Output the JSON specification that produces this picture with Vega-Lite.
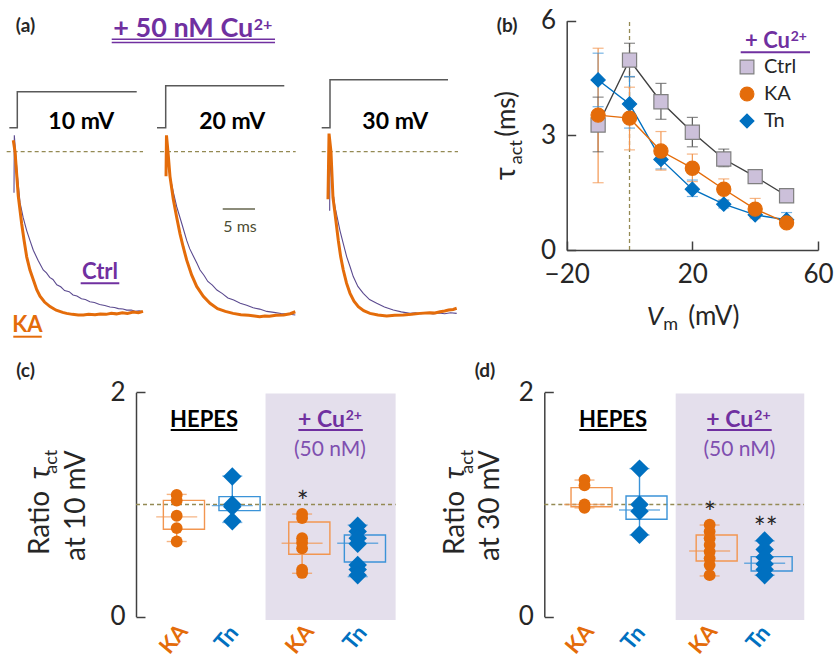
{
  "$schema": "https://vega.github.io/schema/vega-lite/v6.json",
  "width": 834,
  "height": 660,
  "padding": 0,
  "autosize": {"type": "none"},
  "background": "#ffffff",
  "config": {"font": "Lato", "view": {"stroke": null}},
  "datasets": {
    "traces": [
      {"p":"10 mV","c":"Ctrl","t":-0.51,"i":0.75},{"p":"10 mV","c":"Ctrl","t":-0.46,"i":1.10},{"p":"10 mV","c":"Ctrl","t":-0.28,"i":1.0},{"p":"10 mV","c":"Ctrl","t":0.0,"i":0.86},{"p":"10 mV","c":"Ctrl","t":0.42,"i":0.69},{"p":"10 mV","c":"Ctrl","t":0.9,"i":0.6},{"p":"10 mV","c":"Ctrl","t":1.45,"i":0.52},{"p":"10 mV","c":"Ctrl","t":1.95,"i":0.46},{"p":"10 mV","c":"Ctrl","t":2.47,"i":0.4},{"p":"10 mV","c":"Ctrl","t":3.2,"i":0.34},{"p":"10 mV","c":"Ctrl","t":4.0,"i":0.28},{"p":"10 mV","c":"Ctrl","t":4.5,"i":0.262},{"p":"10 mV","c":"Ctrl","t":5.0,"i":0.235},{"p":"10 mV","c":"Ctrl","t":5.5,"i":0.222},{"p":"10 mV","c":"Ctrl","t":6.1,"i":0.19},{"p":"10 mV","c":"Ctrl","t":6.7,"i":0.178},{"p":"10 mV","c":"Ctrl","t":7.3,"i":0.155},{"p":"10 mV","c":"Ctrl","t":8.0,"i":0.148},{"p":"10 mV","c":"Ctrl","t":8.6,"i":0.128},{"p":"10 mV","c":"Ctrl","t":9.2,"i":0.122},{"p":"10 mV","c":"Ctrl","t":9.9,"i":0.105},{"p":"10 mV","c":"Ctrl","t":10.5,"i":0.1},{"p":"10 mV","c":"Ctrl","t":11.2,"i":0.087},{"p":"10 mV","c":"Ctrl","t":11.9,"i":0.082},{"p":"10 mV","c":"Ctrl","t":12.7,"i":0.07},{"p":"10 mV","c":"Ctrl","t":13.5,"i":0.064},{"p":"10 mV","c":"Ctrl","t":14.3,"i":0.055},{"p":"10 mV","c":"Ctrl","t":15.0,"i":0.052},{"p":"10 mV","c":"Ctrl","t":15.6,"i":0.045},{"p":"10 mV","c":"Ctrl","t":16.3,"i":0.043},{"p":"10 mV","c":"Ctrl","t":16.9,"i":0.036},{"p":"10 mV","c":"Ctrl","t":17.6,"i":0.036},{"p":"10 mV","c":"Ctrl","t":18.2,"i":0.029},{"p":"10 mV","c":"Ctrl","t":18.8,"i":0.031},{"p":"10 mV","c":"Ctrl","t":19.4,"i":0.026},
      {"p":"10 mV","c":"KA","t":-0.62,"i":1.07},{"p":"10 mV","c":"KA","t":-0.35,"i":1.0},{"p":"10 mV","c":"KA","t":0.15,"i":0.73},{"p":"10 mV","c":"KA","t":0.68,"i":0.56},{"p":"10 mV","c":"KA","t":1.05,"i":0.46},{"p":"10 mV","c":"KA","t":1.45,"i":0.36},{"p":"10 mV","c":"KA","t":1.95,"i":0.28},{"p":"10 mV","c":"KA","t":2.47,"i":0.22},{"p":"10 mV","c":"KA","t":3.0,"i":0.16},{"p":"10 mV","c":"KA","t":3.5,"i":0.12},{"p":"10 mV","c":"KA","t":4.2,"i":0.085},{"p":"10 mV","c":"KA","t":5.05,"i":0.057},{"p":"10 mV","c":"KA","t":6.0,"i":0.035},{"p":"10 mV","c":"KA","t":7.0,"i":0.022},{"p":"10 mV","c":"KA","t":7.6,"i":0.016},{"p":"10 mV","c":"KA","t":8.5,"i":0.01},{"p":"10 mV","c":"KA","t":9.4,"i":0.006},{"p":"10 mV","c":"KA","t":10.2,"i":0.006},{"p":"10 mV","c":"KA","t":11.0,"i":0.01},{"p":"10 mV","c":"KA","t":12.0,"i":0.007},{"p":"10 mV","c":"KA","t":12.8,"i":0.012},{"p":"10 mV","c":"KA","t":13.7,"i":0.01},{"p":"10 mV","c":"KA","t":14.5,"i":0.016},{"p":"10 mV","c":"KA","t":15.3,"i":0.013},{"p":"10 mV","c":"KA","t":16.2,"i":0.02},{"p":"10 mV","c":"KA","t":17.0,"i":0.016},{"p":"10 mV","c":"KA","t":17.9,"i":0.024},{"p":"10 mV","c":"KA","t":18.7,"i":0.02},{"p":"10 mV","c":"KA","t":19.4,"i":0.028},
      {"p":"20 mV","c":"Ctrl","t":0.05,"i":1.0},{"p":"20 mV","c":"Ctrl","t":0.66,"i":0.85},{"p":"20 mV","c":"Ctrl","t":1.2,"i":0.75},{"p":"20 mV","c":"Ctrl","t":1.7,"i":0.665},{"p":"20 mV","c":"Ctrl","t":2.5,"i":0.56},{"p":"20 mV","c":"Ctrl","t":3.24,"i":0.46},{"p":"20 mV","c":"Ctrl","t":3.7,"i":0.41},{"p":"20 mV","c":"Ctrl","t":4.2,"i":0.37},{"p":"20 mV","c":"Ctrl","t":4.8,"i":0.322},{"p":"20 mV","c":"Ctrl","t":5.3,"i":0.28},{"p":"20 mV","c":"Ctrl","t":5.9,"i":0.248},{"p":"20 mV","c":"Ctrl","t":6.5,"i":0.21},{"p":"20 mV","c":"Ctrl","t":7.2,"i":0.188},{"p":"20 mV","c":"Ctrl","t":7.9,"i":0.158},{"p":"20 mV","c":"Ctrl","t":8.7,"i":0.138},{"p":"20 mV","c":"Ctrl","t":9.6,"i":0.11},{"p":"20 mV","c":"Ctrl","t":10.5,"i":0.097},{"p":"20 mV","c":"Ctrl","t":11.5,"i":0.077},{"p":"20 mV","c":"Ctrl","t":12.5,"i":0.066},{"p":"20 mV","c":"Ctrl","t":13.5,"i":0.05},{"p":"20 mV","c":"Ctrl","t":14.5,"i":0.042},{"p":"20 mV","c":"Ctrl","t":15.6,"i":0.028},{"p":"20 mV","c":"Ctrl","t":16.7,"i":0.022},{"p":"20 mV","c":"Ctrl","t":17.8,"i":0.015},{"p":"20 mV","c":"Ctrl","t":18.9,"i":0.012},{"p":"20 mV","c":"Ctrl","t":20.0,"i":0.006},
      {"p":"20 mV","c":"KA","t":0.05,"i":0.85},{"p":"20 mV","c":"KA","t":0.12,"i":1.1},{"p":"20 mV","c":"KA","t":0.35,"i":1.0},{"p":"20 mV","c":"KA","t":0.66,"i":0.85},{"p":"20 mV","c":"KA","t":1.17,"i":0.71},{"p":"20 mV","c":"KA","t":1.7,"i":0.6},{"p":"20 mV","c":"KA","t":2.21,"i":0.5},{"p":"20 mV","c":"KA","t":2.7,"i":0.42},{"p":"20 mV","c":"KA","t":3.24,"i":0.34},{"p":"20 mV","c":"KA","t":4.0,"i":0.25},{"p":"20 mV","c":"KA","t":4.78,"i":0.18},{"p":"20 mV","c":"KA","t":5.8,"i":0.12},{"p":"20 mV","c":"KA","t":6.84,"i":0.077},{"p":"20 mV","c":"KA","t":8.0,"i":0.045},{"p":"20 mV","c":"KA","t":9.2,"i":0.028},{"p":"20 mV","c":"KA","t":10.4,"i":0.016},{"p":"20 mV","c":"KA","t":11.6,"i":0.008},{"p":"20 mV","c":"KA","t":12.8,"i":0.004},{"p":"20 mV","c":"KA","t":13.7,"i":0.0},{"p":"20 mV","c":"KA","t":14.5,"i":-0.004},{"p":"20 mV","c":"KA","t":15.3,"i":0.0},{"p":"20 mV","c":"KA","t":16.0,"i":-0.002},{"p":"20 mV","c":"KA","t":17.0,"i":0.004},{"p":"20 mV","c":"KA","t":18.2,"i":0.006},{"p":"20 mV","c":"KA","t":19.2,"i":0.014},{"p":"20 mV","c":"KA","t":20.0,"i":0.026},
      {"p":"30 mV","c":"Ctrl","t":-0.05,"i":0.64},{"p":"30 mV","c":"Ctrl","t":0.0,"i":1.0},{"p":"30 mV","c":"Ctrl","t":0.3,"i":0.8},{"p":"30 mV","c":"Ctrl","t":0.77,"i":0.665},{"p":"30 mV","c":"Ctrl","t":1.54,"i":0.52},{"p":"30 mV","c":"Ctrl","t":2.05,"i":0.44},{"p":"30 mV","c":"Ctrl","t":2.58,"i":0.36},{"p":"30 mV","c":"Ctrl","t":3.1,"i":0.3},{"p":"30 mV","c":"Ctrl","t":3.59,"i":0.24},{"p":"30 mV","c":"Ctrl","t":4.3,"i":0.18},{"p":"30 mV","c":"Ctrl","t":5.14,"i":0.138},{"p":"30 mV","c":"Ctrl","t":6.1,"i":0.1},{"p":"30 mV","c":"Ctrl","t":7.21,"i":0.077},{"p":"30 mV","c":"Ctrl","t":8.4,"i":0.055},{"p":"30 mV","c":"Ctrl","t":9.77,"i":0.037},{"p":"30 mV","c":"Ctrl","t":11.0,"i":0.025},{"p":"30 mV","c":"Ctrl","t":12.35,"i":0.016},{"p":"30 mV","c":"Ctrl","t":13.2,"i":0.02},{"p":"30 mV","c":"Ctrl","t":14.0,"i":0.014},{"p":"30 mV","c":"Ctrl","t":15.0,"i":0.018},{"p":"30 mV","c":"Ctrl","t":15.9,"i":0.012},{"p":"30 mV","c":"Ctrl","t":16.8,"i":0.018},{"p":"30 mV","c":"Ctrl","t":17.7,"i":0.014},{"p":"30 mV","c":"Ctrl","t":18.6,"i":0.02},{"p":"30 mV","c":"Ctrl","t":19.55,"i":0.016},
      {"p":"30 mV","c":"KA","t":-0.31,"i":0.71},{"p":"30 mV","c":"KA","t":-0.15,"i":1.11},{"p":"30 mV","c":"KA","t":0.15,"i":1.0},{"p":"30 mV","c":"KA","t":0.46,"i":0.72},{"p":"30 mV","c":"KA","t":0.77,"i":0.625},{"p":"30 mV","c":"KA","t":1.28,"i":0.46},{"p":"30 mV","c":"KA","t":1.65,"i":0.36},{"p":"30 mV","c":"KA","t":2.05,"i":0.28},{"p":"30 mV","c":"KA","t":2.55,"i":0.2},{"p":"30 mV","c":"KA","t":3.09,"i":0.138},{"p":"30 mV","c":"KA","t":3.7,"i":0.09},{"p":"30 mV","c":"KA","t":4.37,"i":0.057},{"p":"30 mV","c":"KA","t":5.2,"i":0.032},{"p":"30 mV","c":"KA","t":6.17,"i":0.016},{"p":"30 mV","c":"KA","t":7.4,"i":0.006},{"p":"30 mV","c":"KA","t":8.75,"i":0.0},{"p":"30 mV","c":"KA","t":10.0,"i":0.004},{"p":"30 mV","c":"KA","t":11.3,"i":0.006},{"p":"30 mV","c":"KA","t":12.6,"i":0.01},{"p":"30 mV","c":"KA","t":13.9,"i":0.016},{"p":"30 mV","c":"KA","t":15.4,"i":0.02},{"p":"30 mV","c":"KA","t":16.2,"i":0.018},{"p":"30 mV","c":"KA","t":17.0,"i":0.026},{"p":"30 mV","c":"KA","t":17.7,"i":0.03},{"p":"30 mV","c":"KA","t":18.3,"i":0.036},{"p":"30 mV","c":"KA","t":19.0,"i":0.04},{"p":"30 mV","c":"KA","t":19.55,"i":0.047}
    ],
    "steps": [
      {"p":"10 mV","k":0,"t":-1.23,"v":-50},{"p":"10 mV","k":1,"t":0,"v":-50},{"p":"10 mV","k":2,"t":0,"v":10},{"p":"10 mV","k":3,"t":18.43,"v":10},
      {"p":"20 mV","k":0,"t":-1.34,"v":-50},{"p":"20 mV","k":1,"t":0,"v":-50},{"p":"20 mV","k":2,"t":0,"v":20},{"p":"20 mV","k":3,"t":18.3,"v":20},
      {"p":"30 mV","k":0,"t":-1.28,"v":-50},{"p":"30 mV","k":1,"t":0,"v":-50},{"p":"30 mV","k":2,"t":0,"v":30},{"p":"30 mV","k":3,"t":18.21,"v":30}
    ],
    "tau": [
      {"cond":"Ctrl","vm":-10,"tau":3.27,"lo":2.57,"hi":4.0},{"cond":"Ctrl","vm":0,"tau":4.97,"lo":4.53,"hi":5.41},{"cond":"Ctrl","vm":10,"tau":3.88,"lo":3.42,"hi":4.36},{"cond":"Ctrl","vm":20,"tau":3.08,"lo":2.7,"hi":3.47},{"cond":"Ctrl","vm":30,"tau":2.38,"lo":2.18,"hi":2.64},{"cond":"Ctrl","vm":40,"tau":1.92,"lo":1.84,"hi":2.0},{"cond":"Ctrl","vm":50,"tau":1.42,"lo":1.36,"hi":1.48},
      {"cond":"Tn","vm":-10,"tau":4.45,"lo":3.75,"hi":5.15},{"cond":"Tn","vm":0,"tau":3.82,"lo":3.19,"hi":4.54},{"cond":"Tn","vm":10,"tau":2.37,"lo":2.12,"hi":2.6},{"cond":"Tn","vm":20,"tau":1.59,"lo":1.4,"hi":1.83},{"cond":"Tn","vm":30,"tau":1.2,"lo":1.1,"hi":1.3},{"cond":"Tn","vm":40,"tau":0.92,"lo":0.86,"hi":0.98},{"cond":"Tn","vm":50,"tau":0.79,"lo":0.65,"hi":0.98},
      {"cond":"KA","vm":-10,"tau":3.53,"lo":1.76,"hi":5.28},{"cond":"KA","vm":0,"tau":3.45,"lo":2.62,"hi":4.26},{"cond":"KA","vm":10,"tau":2.59,"lo":2.09,"hi":3.1},{"cond":"KA","vm":20,"tau":2.14,"lo":1.79,"hi":2.51},{"cond":"KA","vm":30,"tau":1.59,"lo":1.31,"hi":1.86},{"cond":"KA","vm":40,"tau":1.07,"lo":0.82,"hi":1.35},{"cond":"KA","vm":50,"tau":0.71,"lo":0.6,"hi":0.82}
    ],
    "ratios": [
      {"panel":"c","grp":"HEPES","cond":"KA","v":1.085},{"panel":"c","grp":"HEPES","cond":"KA","v":1.035},{"panel":"c","grp":"HEPES","cond":"KA","v":0.9},{"panel":"c","grp":"HEPES","cond":"KA","v":0.79},{"panel":"c","grp":"HEPES","cond":"KA","v":0.67},
      {"panel":"c","grp":"HEPES","cond":"Tn","v":1.25},{"panel":"c","grp":"HEPES","cond":"Tn","v":1.0},{"panel":"c","grp":"HEPES","cond":"Tn","v":0.98},{"panel":"c","grp":"HEPES","cond":"Tn","v":0.85},
      {"panel":"c","grp":"Cu","cond":"KA","v":0.915},{"panel":"c","grp":"Cu","cond":"KA","v":0.88},{"panel":"c","grp":"Cu","cond":"KA","v":0.7},{"panel":"c","grp":"Cu","cond":"KA","v":0.66},{"panel":"c","grp":"Cu","cond":"KA","v":0.61},{"panel":"c","grp":"Cu","cond":"KA","v":0.42},{"panel":"c","grp":"Cu","cond":"KA","v":0.39},
      {"panel":"c","grp":"Cu","cond":"Tn","v":0.81},{"panel":"c","grp":"Cu","cond":"Tn","v":0.76},{"panel":"c","grp":"Cu","cond":"Tn","v":0.7},{"panel":"c","grp":"Cu","cond":"Tn","v":0.65},{"panel":"c","grp":"Cu","cond":"Tn","v":0.46},{"panel":"c","grp":"Cu","cond":"Tn","v":0.42},{"panel":"c","grp":"Cu","cond":"Tn","v":0.37},
      {"panel":"d","grp":"HEPES","cond":"KA","v":1.22},{"panel":"d","grp":"HEPES","cond":"KA","v":1.17},{"panel":"d","grp":"HEPES","cond":"KA","v":1.0},{"panel":"d","grp":"HEPES","cond":"KA","v":0.97},
      {"panel":"d","grp":"HEPES","cond":"Tn","v":1.32},{"panel":"d","grp":"HEPES","cond":"Tn","v":1.0},{"panel":"d","grp":"HEPES","cond":"Tn","v":0.94},{"panel":"d","grp":"HEPES","cond":"Tn","v":0.73},
      {"panel":"d","grp":"Cu","cond":"KA","v":0.82},{"panel":"d","grp":"Cu","cond":"KA","v":0.76},{"panel":"d","grp":"Cu","cond":"KA","v":0.7},{"panel":"d","grp":"Cu","cond":"KA","v":0.64},{"panel":"d","grp":"Cu","cond":"KA","v":0.58},{"panel":"d","grp":"Cu","cond":"KA","v":0.52},{"panel":"d","grp":"Cu","cond":"KA","v":0.46},{"panel":"d","grp":"Cu","cond":"KA","v":0.37},
      {"panel":"d","grp":"Cu","cond":"Tn","v":0.68},{"panel":"d","grp":"Cu","cond":"Tn","v":0.6},{"panel":"d","grp":"Cu","cond":"Tn","v":0.53},{"panel":"d","grp":"Cu","cond":"Tn","v":0.47},{"panel":"d","grp":"Cu","cond":"Tn","v":0.42},{"panel":"d","grp":"Cu","cond":"Tn","v":0.37}
    ],
    "boxes": [
      {"panel":"c","grp":"HEPES","cond":"KA","lo":0.67,"q1":0.78,"med":0.89,"q3":1.037,"hi":1.09},
      {"panel":"c","grp":"HEPES","cond":"Tn","lo":0.84,"q1":0.945,"med":0.99,"q3":1.07,"hi":1.254},
      {"panel":"c","grp":"Cu","cond":"KA","lo":0.387,"q1":0.556,"med":0.654,"q3":0.844,"hi":0.915},
      {"panel":"c","grp":"Cu","cond":"Tn","lo":0.357,"q1":0.487,"med":0.654,"q3":0.728,"hi":0.817},
      {"panel":"d","grp":"HEPES","cond":"KA","lo":0.97,"q1":0.98,"med":1.0,"q3":1.15,"hi":1.218},
      {"panel":"d","grp":"HEPES","cond":"Tn","lo":0.728,"q1":0.868,"med":0.951,"q3":1.076,"hi":1.32},
      {"panel":"d","grp":"Cu","cond":"KA","lo":0.363,"q1":0.496,"med":0.586,"q3":0.728,"hi":0.817},
      {"panel":"d","grp":"Cu","cond":"Tn","lo":0.37,"q1":0.407,"med":0.476,"q3":0.535,"hi":0.675}
    ]
  },
  "resolve": {"scale": {"x": "independent", "y": "independent", "xOffset": "independent"}, "axis": {"x": "independent", "y": "independent"}},
  "layer": [
    {
      "data": {"values": [{}]},
      "layer": [
        {"mark": {"type": "rule", "color": "#948a54", "strokeDash": [4, 3], "strokeWidth": 1.3},
         "encoding": {"x": {"datum": -1.64, "scale": {"domain": [0, 20], "range": [17.3, 146.9], "nice": false, "zero": false}, "axis": null}, "x2": {"datum": 19.4}, "y": {"datum": 1, "scale": {"domain": [0, 1], "range": [316, 151.7], "nice": false, "zero": false}, "axis": null}}},
        {"data": {"name": "traces"}, "transform": [{"filter": "datum.p === '10 mV' && datum.c === 'Ctrl'"}], "mark": {"type": "line", "color": "#5b4a8f", "strokeWidth": 1.1},
         "encoding": {"x": {"field": "t", "type": "quantitative", "axis": null}, "y": {"field": "i", "type": "quantitative", "axis": null}}},
        {"data": {"name": "traces"}, "transform": [{"filter": "datum.p === '10 mV' && datum.c === 'KA'"}], "mark": {"type": "line", "color": "#e46c0a", "strokeWidth": 3},
         "encoding": {"x": {"field": "t", "type": "quantitative", "axis": null}, "y": {"field": "i", "type": "quantitative", "axis": null}}},
        {"mark": {"type": "text", "text": "(a)", "fontSize": 19, "fontWeight": "bold", "color": "#262626"}, "encoding": {"x": {"datum": 1.27, "axis": null}, "y": {"datum": 1.766, "axis": null}}},
        {"mark": {"type": "text", "text": "10 mV", "fontSize": 23, "fontWeight": "bold", "color": "#000000", "baseline": "alphabetic"}, "encoding": {"x": {"datum": 9.88, "axis": null}, "y": {"datum": 1.136, "axis": null}}},
        {"mark": {"type": "text", "text": "Ctrl", "fontSize": 22, "fontWeight": "bold", "color": "#7030a0", "baseline": "alphabetic"}, "encoding": {"x": {"datum": 12.76, "axis": null}, "y": {"datum": 0.223, "axis": null}}},
        {"mark": {"type": "rule", "color": "#7030a0", "strokeWidth": 2}, "encoding": {"x": {"datum": 9.78, "axis": null}, "x2": {"datum": 15.74}, "y": {"datum": 0.199, "axis": null}}},
        {"mark": {"type": "text", "text": "KA", "fontSize": 22, "fontWeight": "bold", "color": "#e46c0a", "baseline": "alphabetic"}, "encoding": {"x": {"datum": 1.57, "axis": null}, "y": {"datum": -0.099, "axis": null}}},
        {"mark": {"type": "rule", "color": "#e46c0a", "strokeWidth": 2}, "encoding": {"x": {"datum": -0.62, "axis": null}, "x2": {"datum": 3.77}, "y": {"datum": -0.126, "axis": null}}}
      ]
    },
    {
      "data": {"name": "steps"}, "transform": [{"filter": "datum.p === '10 mV'"}],
      "mark": {"type": "line", "color": "#595959", "strokeWidth": 1.5},
      "encoding": {"x": {"field": "t", "type": "quantitative", "scale": {"domain": [0, 20], "range": [17.3, 146.9], "nice": false, "zero": false}, "axis": null}, "y": {"field": "v", "type": "quantitative", "scale": {"domain": [-50, 30], "range": [127.7, 79.7], "nice": false, "zero": false}, "axis": null}, "order": {"field": "k"}}
    },
    {
      "data": {"values": [{}]},
      "layer": [
        {"mark": {"type": "rule", "color": "#948a54", "strokeDash": [4, 3], "strokeWidth": 1.3},
         "encoding": {"x": {"datum": -0.88, "scale": {"domain": [0, 20], "range": [165.7, 295.3], "nice": false, "zero": false}, "axis": null}, "x2": {"datum": 20.06}, "y": {"datum": 1, "scale": {"domain": [0, 1], "range": [316, 151.7], "nice": false, "zero": false}, "axis": null}}},
        {"data": {"name": "traces"}, "transform": [{"filter": "datum.p === '20 mV' && datum.c === 'Ctrl'"}], "mark": {"type": "line", "color": "#5b4a8f", "strokeWidth": 1.1},
         "encoding": {"x": {"field": "t", "type": "quantitative", "axis": null}, "y": {"field": "i", "type": "quantitative", "axis": null}}},
        {"data": {"name": "traces"}, "transform": [{"filter": "datum.p === '20 mV' && datum.c === 'KA'"}], "mark": {"type": "line", "color": "#e46c0a", "strokeWidth": 3},
         "encoding": {"x": {"field": "t", "type": "quantitative", "axis": null}, "y": {"field": "i", "type": "quantitative", "axis": null}}},
        {"mark": {"type": "text", "text": "+ 50 nM Cu", "fontSize": 27, "fontWeight": "bold", "color": "#7030a0", "align": "right", "baseline": "alphabetic"}, "encoding": {"x": {"datum": 13.52, "axis": null}, "y": {"datum": 1.7, "axis": null}}},
        {"mark": {"type": "text", "text": "2+", "fontSize": 16, "fontWeight": "bold", "color": "#7030a0", "align": "left", "baseline": "alphabetic"}, "encoding": {"x": {"datum": 13.6, "axis": null}, "y": {"datum": 1.741, "axis": null}}},
        {"mark": {"type": "rule", "color": "#7030a0", "strokeWidth": 1.5}, "encoding": {"x": {"datum": -8.33, "axis": null}, "x2": {"datum": 16.87}, "y": {"datum": 1.684, "axis": null}}},
        {"mark": {"type": "rule", "color": "#7030a0", "strokeWidth": 1.5}, "encoding": {"x": {"datum": -8.33, "axis": null}, "x2": {"datum": 16.87}, "y": {"datum": 1.664, "axis": null}}},
        {"mark": {"type": "text", "text": "20 mV", "fontSize": 23, "fontWeight": "bold", "color": "#000000", "baseline": "alphabetic"}, "encoding": {"x": {"datum": 10.26, "axis": null}, "y": {"datum": 1.136, "axis": null}}},
        {"mark": {"type": "rule", "color": "#8c8c7a", "strokeWidth": 2}, "encoding": {"x": {"datum": 8.8, "axis": null}, "x2": {"datum": 13.78}, "y": {"datum": 0.651, "axis": null}}},
        {"mark": {"type": "text", "text": "5 ms", "fontSize": 16, "color": "#4d4d33", "baseline": "alphabetic"}, "encoding": {"x": {"datum": 11.47, "axis": null}, "y": {"datum": 0.509, "axis": null}}}
      ]
    },
    {
      "data": {"name": "steps"}, "transform": [{"filter": "datum.p === '20 mV'"}],
      "mark": {"type": "line", "color": "#595959", "strokeWidth": 1.5},
      "encoding": {"x": {"field": "t", "type": "quantitative", "scale": {"domain": [0, 20], "range": [165.7, 295.3], "nice": false, "zero": false}, "axis": null}, "y": {"field": "v", "type": "quantitative", "scale": {"domain": [-50, 30], "range": [127.7, 79.7], "nice": false, "zero": false}, "axis": null}, "order": {"field": "k"}}
    },
    {
      "data": {"values": [{}]},
      "layer": [
        {"mark": {"type": "rule", "color": "#948a54", "strokeDash": [4, 3], "strokeWidth": 1.3},
         "encoding": {"x": {"datum": -1.28, "scale": {"domain": [0, 20], "range": [330, 459.6], "nice": false, "zero": false}, "axis": null}, "x2": {"datum": 19.75}, "y": {"datum": 1, "scale": {"domain": [0, 1], "range": [316, 151.7], "nice": false, "zero": false}, "axis": null}}},
        {"data": {"name": "traces"}, "transform": [{"filter": "datum.p === '30 mV' && datum.c === 'Ctrl'"}], "mark": {"type": "line", "color": "#5b4a8f", "strokeWidth": 1.1},
         "encoding": {"x": {"field": "t", "type": "quantitative", "axis": null}, "y": {"field": "i", "type": "quantitative", "axis": null}}},
        {"data": {"name": "traces"}, "transform": [{"filter": "datum.p === '30 mV' && datum.c === 'KA'"}], "mark": {"type": "line", "color": "#e46c0a", "strokeWidth": 3},
         "encoding": {"x": {"field": "t", "type": "quantitative", "axis": null}, "y": {"field": "i", "type": "quantitative", "axis": null}}},
        {"mark": {"type": "text", "text": "30 mV", "fontSize": 23, "fontWeight": "bold", "color": "#000000", "baseline": "alphabetic"}, "encoding": {"x": {"datum": 10.08, "axis": null}, "y": {"datum": 1.136, "axis": null}}}
      ]
    },
    {
      "data": {"name": "steps"}, "transform": [{"filter": "datum.p === '30 mV'"}],
      "mark": {"type": "line", "color": "#595959", "strokeWidth": 1.5},
      "encoding": {"x": {"field": "t", "type": "quantitative", "scale": {"domain": [0, 20], "range": [330, 459.6], "nice": false, "zero": false}, "axis": null}, "y": {"field": "v", "type": "quantitative", "scale": {"domain": [-50, 30], "range": [127.7, 79.7], "nice": false, "zero": false}, "axis": null}, "order": {"field": "k"}}
    },
    {
      "data": {"values": [{}]},
      "layer": [
        {"mark": {"type": "rule", "color": "#948a54", "strokeDash": [4, 3], "strokeWidth": 1.3},
         "encoding": {"x": {"datum": 0, "scale": {"domain": [-20, 60], "range": [566.7, 818], "nice": false, "zero": false}, "axis": {"title": null}},
                      "y": {"datum": 0, "scale": {"domain": [0, 6], "range": [250, 20.7], "nice": false, "zero": false}, "axis": {"title": null}},
                      "y2": {"datum": 6}}},
        {"data": {"name": "tau"}, "mark": {"type": "rule", "strokeWidth": 1.2},
         "encoding": {
           "x": {"field": "vm", "type": "quantitative",
                 "axis": {"orient": "bottom", "offset": -410, "values": [-20, 20, 60], "format": "d", "title": null, "grid": false, "tickSize": -9, "labelPadding": 20, "labelFontSize": 26, "labelFont": "Lato", "labelColor": "#262626", "labelFlush": false, "labelOverlap": false, "domainColor": "#404040", "domainWidth": 1.5, "tickColor": "#404040", "tickWidth": 1.5}},
           "y": {"field": "lo", "type": "quantitative",
                 "axis": {"orient": "left", "offset": -566.7, "values": [0, 3, 6], "format": "d", "title": null, "grid": false, "tickSize": -9, "labelPadding": 20, "labelFontSize": 26, "labelFont": "Lato", "labelColor": "#262626", "labelOverlap": false, "domainColor": "#404040", "domainWidth": 1.5, "tickColor": "#404040", "tickWidth": 1.5}},
           "y2": {"field": "hi"},
           "color": {"field": "cond", "type": "nominal", "scale": {"domain": ["KA", "Tn", "Ctrl"], "range": ["#f29650", "#3b93d8", "#595959"]}, "legend": null}}},
        {"data": {"name": "tau"}, "mark": {"type": "tick", "orient": "horizontal", "size": 11, "thickness": 1.2},
         "encoding": {"x": {"field": "vm", "type": "quantitative", "axis": {"title": null}}, "y": {"field": "lo", "type": "quantitative", "axis": {"title": null}},
                      "color": {"field": "cond", "type": "nominal", "scale": {"domain": ["KA", "Tn", "Ctrl"], "range": ["#f29650", "#3b93d8", "#595959"]}, "legend": null}}},
        {"data": {"name": "tau"}, "mark": {"type": "tick", "orient": "horizontal", "size": 11, "thickness": 1.2},
         "encoding": {"x": {"field": "vm", "type": "quantitative", "axis": {"title": null}}, "y": {"field": "hi", "type": "quantitative", "axis": {"title": null}},
                      "color": {"field": "cond", "type": "nominal", "scale": {"domain": ["KA", "Tn", "Ctrl"], "range": ["#f29650", "#3b93d8", "#595959"]}, "legend": null}}},
        {"data": {"name": "tau"}, "transform": [{"filter": "datum.cond === 'Ctrl'"}], "mark": {"type": "line", "strokeWidth": 1.4, "color": "#404040"},
         "encoding": {"x": {"field": "vm", "type": "quantitative", "axis": {"title": null}}, "y": {"field": "tau", "type": "quantitative", "axis": {"title": null}}}},
        {"data": {"name": "tau"}, "transform": [{"filter": "datum.cond === 'Tn'"}], "mark": {"type": "line", "strokeWidth": 1.4, "color": "#0070c0"},
         "encoding": {"x": {"field": "vm", "type": "quantitative", "axis": {"title": null}}, "y": {"field": "tau", "type": "quantitative", "axis": {"title": null}}}},
        {"data": {"name": "tau"}, "transform": [{"filter": "datum.cond === 'KA'"}], "mark": {"type": "line", "strokeWidth": 1.4, "color": "#e46c0a"},
         "encoding": {"x": {"field": "vm", "type": "quantitative", "axis": {"title": null}}, "y": {"field": "tau", "type": "quantitative", "axis": {"title": null}}}},
        {"data": {"name": "tau"}, "mark": {"type": "point", "filled": true, "size": 200, "strokeWidth": 1.2, "opacity": 1},
         "encoding": {"x": {"field": "vm", "type": "quantitative", "axis": {"title": null}}, "y": {"field": "tau", "type": "quantitative", "axis": {"title": null}},
                      "shape": {"field": "cond", "type": "nominal", "scale": {"domain": ["Ctrl", "KA", "Tn"], "range": ["square", "circle", "diamond"]},
                                "legend": {"orient": "none", "legendX": 737, "legendY": 57, "title": null, "labelFontSize": 20, "labelFont": "Lato", "labelColor": "#262626", "symbolSize": 190, "rowPadding": 7, "labelOffset": 7, "padding": 0, "symbolStrokeWidth": 1.2}},
                      "fill": {"field": "cond", "type": "nominal", "scale": {"domain": ["Ctrl", "KA", "Tn"], "range": ["#ccc0da", "#e46c0a", "#0070c0"]},
                               "legend": {"orient": "none", "legendX": 737, "legendY": 57, "title": null, "labelFontSize": 20, "labelFont": "Lato", "labelColor": "#262626", "symbolSize": 190, "rowPadding": 7, "labelOffset": 7, "padding": 0, "symbolStrokeWidth": 1.2}},
                      "stroke": {"field": "cond", "type": "nominal", "scale": {"domain": ["Ctrl", "KA", "Tn"], "range": ["#7f7f7f", "#e46c0a", "#0070c0"]},
                                 "legend": {"orient": "none", "legendX": 737, "legendY": 57, "title": null, "labelFontSize": 20, "labelFont": "Lato", "labelColor": "#262626", "symbolSize": 190, "rowPadding": 7, "labelOffset": 7, "padding": 0, "symbolStrokeWidth": 1.2}}}},
        {"mark": {"type": "text", "text": "(b)", "fontSize": 19, "fontWeight": "bold", "color": "#262626"}, "encoding": {"x": {"datum": -39.0, "axis": {"title": null}}, "y": {"datum": 5.866, "axis": {"title": null}}}},
        {"mark": {"type": "text", "text": "τ", "fontSize": 28, "angle": 270, "color": "#262626", "baseline": "alphabetic"}, "encoding": {"x": {"datum": -36.46, "axis": {"title": null}}, "y": {"datum": 2.0, "axis": {"title": null}}}},
        {"mark": {"type": "text", "text": "act", "fontSize": 18, "angle": 270, "color": "#262626", "baseline": "alphabetic"}, "encoding": {"x": {"datum": -34.2, "axis": {"title": null}}, "y": {"datum": 2.56, "axis": {"title": null}}}},
        {"mark": {"type": "text", "text": "(ms)", "fontSize": 26, "angle": 270, "color": "#262626", "baseline": "alphabetic"}, "encoding": {"x": {"datum": -36.46, "axis": {"title": null}}, "y": {"datum": 3.56, "axis": {"title": null}}}},
        {"mark": {"type": "text", "text": "V", "fontSize": 26, "fontStyle": "italic", "color": "#262626", "align": "left", "baseline": "alphabetic"}, "encoding": {"x": {"datum": 5.47, "axis": {"title": null}}, "y": {"datum": -1.962, "axis": {"title": null}}}},
        {"mark": {"type": "text", "text": "m", "fontSize": 18, "color": "#262626", "align": "left", "baseline": "alphabetic"}, "encoding": {"x": {"datum": 10.75, "axis": {"title": null}}, "y": {"datum": -2.093, "axis": {"title": null}}}},
        {"mark": {"type": "text", "text": "(mV)", "fontSize": 26, "color": "#262626", "align": "left", "baseline": "alphabetic"}, "encoding": {"x": {"datum": 18.71, "axis": {"title": null}}, "y": {"datum": -1.962, "axis": {"title": null}}}},
        {"mark": {"type": "text", "text": "+ Cu", "fontSize": 22, "fontWeight": "bold", "color": "#7030a0", "align": "right", "baseline": "alphabetic"}, "encoding": {"x": {"datum": 51.09, "axis": {"title": null}}, "y": {"datum": 5.278, "axis": {"title": null}}}},
        {"mark": {"type": "text", "text": "2+", "fontSize": 14, "fontWeight": "bold", "color": "#7030a0", "align": "left", "baseline": "alphabetic"}, "encoding": {"x": {"datum": 51.3, "axis": {"title": null}}, "y": {"datum": 5.477, "axis": {"title": null}}}},
        {"mark": {"type": "rule", "color": "#7030a0", "strokeWidth": 2}, "encoding": {"x": {"datum": 35.39, "axis": {"title": null}}, "x2": {"datum": 57.45}, "y": {"datum": 5.173, "axis": {"title": null}}}}
      ]
    },
    {
      "data": {"values": [{}]},
      "layer": [
        {"mark": {"type": "rect", "color": "#e4dfec"},
         "encoding": {"x": {"datum": 2.33, "scale": {"domain": [0, 4.7], "range": [136, 397.3], "nice": false, "zero": false}, "axis": null}, "x2": {"datum": 4.67},
                      "y": {"datum": -0.03, "scale": {"domain": [0, 2], "range": [616.7, 392.3], "nice": false, "zero": false}, "axis": null},
                      "y2": {"datum": 1.99}}},
        {"mark": {"type": "rule", "color": "#948a54", "strokeDash": [4, 3], "strokeWidth": 1.3}, "encoding": {"x": {"datum": 0, "axis": null}, "x2": {"datum": 4.67}, "y": {"datum": 1, "axis": null}}},
        {"mark": {"type": "text", "text": "(c)", "fontSize": 19, "fontWeight": "bold", "color": "#262626"}, "encoding": {"x": {"datum": -1.987, "axis": null}, "y": {"datum": 2.192, "axis": null}}},
        {"mark": {"type": "text", "text": "Ratio", "fontSize": 28, "angle": 270, "color": "#262626", "baseline": "alphabetic"}, "encoding": {"x": {"datum": -1.559, "axis": null}, "y": {"datum": 0.835, "axis": null}}},
        {"mark": {"type": "text", "text": "τ", "fontSize": 28, "fontStyle": "italic", "angle": 270, "color": "#262626", "baseline": "alphabetic"}, "encoding": {"x": {"datum": -1.559, "axis": null}, "y": {"datum": 1.278, "axis": null}}},
        {"mark": {"type": "text", "text": "act", "fontSize": 18, "angle": 270, "color": "#262626", "baseline": "alphabetic"}, "encoding": {"x": {"datum": -1.415, "axis": null}, "y": {"datum": 1.381, "axis": null}}},
        {"mark": {"type": "text", "text": "at 10 mV", "fontSize": 28, "angle": 270, "color": "#262626", "baseline": "alphabetic"}, "encoding": {"x": {"datum": -0.917, "axis": null}, "y": {"datum": 0.99, "axis": null}}},
        {"mark": {"type": "text", "text": "HEPES", "fontSize": 22, "fontWeight": "bold", "color": "#000000", "baseline": "alphabetic"}, "encoding": {"x": {"datum": 1.223, "axis": null}, "y": {"datum": 1.688, "axis": null}}},
        {"mark": {"type": "rule", "color": "#000000", "strokeWidth": 2}, "encoding": {"x": {"datum": 0.624, "axis": null}, "x2": {"datum": 1.822}, "y": {"datum": 1.664, "axis": null}}},
        {"mark": {"type": "text", "text": "+ Cu", "fontSize": 23, "fontWeight": "bold", "color": "#7030a0", "align": "right", "baseline": "alphabetic"}, "encoding": {"x": {"datum": 3.759, "axis": null}, "y": {"datum": 1.688, "axis": null}}},
        {"mark": {"type": "text", "text": "2+", "fontSize": 14, "fontWeight": "bold", "color": "#7030a0", "align": "left", "baseline": "alphabetic"}, "encoding": {"x": {"datum": 3.772, "axis": null}, "y": {"datum": 1.753, "axis": null}}},
        {"mark": {"type": "rule", "color": "#7030a0", "strokeWidth": 2}, "encoding": {"x": {"datum": 2.92, "axis": null}, "x2": {"datum": 4.08}, "y": {"datum": 1.664, "axis": null}}},
        {"mark": {"type": "text", "text": "(50 nM)", "fontSize": 21, "color": "#7f4fb0"}, "encoding": {"x": {"datum": 3.489, "axis": null}, "y": {"datum": 1.486, "axis": null}}},
        {"mark": {"type": "text", "text": "*", "fontSize": 28, "color": "#262626"}, "encoding": {"x": {"datum": 2.998, "axis": null}, "y": {"datum": 1.007, "axis": null}}},
        {"mark": {"type": "text", "text": "KA", "fontSize": 22, "fontWeight": "bold", "angle": 310, "color": "#e46c0a"}, "encoding": {"x": {"datum": 0.68, "axis": null}, "y": {"datum": -0.2, "axis": null}}},
        {"mark": {"type": "text", "text": "Tn", "fontSize": 22, "fontWeight": "bold", "angle": 310, "color": "#0070c0"}, "encoding": {"x": {"datum": 1.63, "axis": null}, "y": {"datum": -0.19, "axis": null}}},
        {"mark": {"type": "text", "text": "KA", "fontSize": 22, "fontWeight": "bold", "angle": 310, "color": "#e46c0a"}, "encoding": {"x": {"datum": 2.95, "axis": null}, "y": {"datum": -0.2, "axis": null}}},
        {"mark": {"type": "text", "text": "Tn", "fontSize": 22, "fontWeight": "bold", "angle": 310, "color": "#0070c0"}, "encoding": {"x": {"datum": 3.94, "axis": null}, "y": {"datum": -0.19, "axis": null}}}
      ]
    },
    {
      "data": {"name": "boxes"}, "transform": [{"filter": "datum.panel === 'c'"}],
      "layer": [
        {"mark": {"type": "rule", "strokeWidth": 1.4},
         "encoding": {"x": {"field": "grp", "type": "nominal", "scale": {"type": "band", "domain": ["HEPES", "Cu"], "range": [148.9, 385.5], "paddingInner": 0.1132, "paddingOuter": 0}, "axis": null},
                      "xOffset": {"field": "cond", "type": "nominal", "scale": {"type": "band", "domain": ["KA", "Tn"], "paddingInner": 0, "paddingOuter": 0}},
                      "y": {"field": "q3", "type": "quantitative", "scale": {"domain": [0, 2], "range": [616.7, 392.3], "nice": false, "zero": false},
                            "axis": {"orient": "left", "offset": -136, "values": [0, 1, 2], "format": "d", "title": null, "grid": false, "tickSize": -9, "labelPadding": 20, "labelFontSize": 26, "labelFont": "Lato", "labelColor": "#262626", "labelOverlap": false, "domainColor": "#404040", "domainWidth": 1.5, "tickColor": "#404040", "tickWidth": 1.5}},
                      "y2": {"field": "hi"},
                      "color": {"field": "cond", "type": "nominal", "scale": {"domain": ["KA", "Tn", "Ctrl"], "range": ["#f29650", "#3b93d8", "#595959"]}, "legend": null}}},
        {"mark": {"type": "rule", "strokeWidth": 1.4},
         "encoding": {"x": {"field": "grp", "type": "nominal", "axis": null}, "xOffset": {"field": "cond", "type": "nominal"},
                      "y": {"field": "q1", "type": "quantitative", "axis": {"title": null}}, "y2": {"field": "lo"},
                      "color": {"field": "cond", "type": "nominal", "scale": {"domain": ["KA", "Tn", "Ctrl"], "range": ["#f29650", "#3b93d8", "#595959"]}, "legend": null}}},
        {"mark": {"type": "tick", "orient": "horizontal", "size": 20, "thickness": 1.4},
         "encoding": {"x": {"field": "grp", "type": "nominal", "axis": null}, "xOffset": {"field": "cond", "type": "nominal"},
                      "y": {"field": "hi", "type": "quantitative", "axis": {"title": null}},
                      "color": {"field": "cond", "type": "nominal", "scale": {"domain": ["KA", "Tn", "Ctrl"], "range": ["#f29650", "#3b93d8", "#595959"]}, "legend": null}}},
        {"mark": {"type": "tick", "orient": "horizontal", "size": 20, "thickness": 1.4},
         "encoding": {"x": {"field": "grp", "type": "nominal", "axis": null}, "xOffset": {"field": "cond", "type": "nominal"},
                      "y": {"field": "lo", "type": "quantitative", "axis": {"title": null}},
                      "color": {"field": "cond", "type": "nominal", "scale": {"domain": ["KA", "Tn", "Ctrl"], "range": ["#f29650", "#3b93d8", "#595959"]}, "legend": null}}},
        {"mark": {"type": "bar", "filled": false, "orient": "vertical", "width": {"band": 0.74}, "strokeWidth": 1.4},
         "encoding": {"x": {"field": "grp", "type": "nominal", "axis": null}, "xOffset": {"field": "cond", "type": "nominal"},
                      "y": {"field": "q1", "type": "quantitative", "axis": {"title": null}}, "y2": {"field": "q3"},
                      "color": {"field": "cond", "type": "nominal", "scale": {"domain": ["KA", "Tn", "Ctrl"], "range": ["#f29650", "#3b93d8", "#595959"]}, "legend": null}}},
        {"mark": {"type": "tick", "orient": "horizontal", "size": 41, "thickness": 1.4},
         "encoding": {"x": {"field": "grp", "type": "nominal", "axis": null}, "xOffset": {"field": "cond", "type": "nominal"},
                      "y": {"field": "med", "type": "quantitative", "axis": {"title": null}},
                      "color": {"field": "cond", "type": "nominal", "scale": {"domain": ["KA", "Tn", "Ctrl"], "range": ["#f29650", "#3b93d8", "#595959"]}, "legend": null}}},
        {"data": {"name": "ratios"}, "transform": [{"filter": "datum.panel === 'c' && datum.cond === 'KA'"}],
         "mark": {"type": "point", "shape": "circle", "filled": true, "size": 140, "color": "#e46c0a", "opacity": 1},
         "encoding": {"x": {"field": "grp", "type": "nominal", "axis": null}, "xOffset": {"field": "cond", "type": "nominal"}, "y": {"field": "v", "type": "quantitative", "axis": {"title": null}}}},
        {"data": {"name": "ratios"}, "transform": [{"filter": "datum.panel === 'c' && datum.cond === 'Tn'"}],
         "mark": {"type": "point", "shape": "diamond", "filled": true, "size": 340, "color": "#0070c0", "opacity": 1},
         "encoding": {"x": {"field": "grp", "type": "nominal", "axis": null}, "xOffset": {"field": "cond", "type": "nominal"}, "y": {"field": "v", "type": "quantitative", "axis": {"title": null}}}}
      ]
    },
    {
      "data": {"values": [{}]},
      "layer": [
        {"mark": {"type": "rect", "color": "#e4dfec"},
         "encoding": {"x": {"datum": 2.363, "scale": {"domain": [0, 4.7], "range": [544.3, 805.6], "nice": false, "zero": false}, "axis": null}, "x2": {"datum": 4.676},
                      "y": {"datum": -0.03, "scale": {"domain": [0, 2], "range": [616.7, 392.3], "nice": false, "zero": false}, "axis": null},
                      "y2": {"datum": 1.99}}},
        {"mark": {"type": "rule", "color": "#948a54", "strokeDash": [4, 3], "strokeWidth": 1.3}, "encoding": {"x": {"datum": 0, "axis": null}, "x2": {"datum": 4.67}, "y": {"datum": 1, "axis": null}}},
        {"mark": {"type": "text", "text": "(d)", "fontSize": 19, "fontWeight": "bold", "color": "#262626"}, "encoding": {"x": {"datum": -1.067, "axis": null}, "y": {"datum": 2.192, "axis": null}}},
        {"mark": {"type": "text", "text": "Ratio", "fontSize": 28, "angle": 270, "color": "#262626", "baseline": "alphabetic"}, "encoding": {"x": {"datum": -1.439, "axis": null}, "y": {"datum": 0.835, "axis": null}}},
        {"mark": {"type": "text", "text": "τ", "fontSize": 28, "fontStyle": "italic", "angle": 270, "color": "#262626", "baseline": "alphabetic"}, "encoding": {"x": {"datum": -1.439, "axis": null}, "y": {"datum": 1.278, "axis": null}}},
        {"mark": {"type": "text", "text": "act", "fontSize": 18, "angle": 270, "color": "#262626", "baseline": "alphabetic"}, "encoding": {"x": {"datum": -1.277, "axis": null}, "y": {"datum": 1.381, "axis": null}}},
        {"mark": {"type": "text", "text": "at 30 mV", "fontSize": 28, "angle": 270, "color": "#262626", "baseline": "alphabetic"}, "encoding": {"x": {"datum": -0.809, "axis": null}, "y": {"datum": 0.99, "axis": null}}},
        {"mark": {"type": "text", "text": "HEPES", "fontSize": 22, "fontWeight": "bold", "color": "#000000", "baseline": "alphabetic"}, "encoding": {"x": {"datum": 1.236, "axis": null}, "y": {"datum": 1.688, "axis": null}}},
        {"mark": {"type": "rule", "color": "#000000", "strokeWidth": 2}, "encoding": {"x": {"datum": 0.63, "axis": null}, "x2": {"datum": 1.84}, "y": {"datum": 1.664, "axis": null}}},
        {"mark": {"type": "text", "text": "+ Cu", "fontSize": 23, "fontWeight": "bold", "color": "#7030a0", "align": "right", "baseline": "alphabetic"}, "encoding": {"x": {"datum": 3.759, "axis": null}, "y": {"datum": 1.688, "axis": null}}},
        {"mark": {"type": "text", "text": "2+", "fontSize": 14, "fontWeight": "bold", "color": "#7030a0", "align": "left", "baseline": "alphabetic"}, "encoding": {"x": {"datum": 3.777, "axis": null}, "y": {"datum": 1.753, "axis": null}}},
        {"mark": {"type": "rule", "color": "#7030a0", "strokeWidth": 2}, "encoding": {"x": {"datum": 2.93, "axis": null}, "x2": {"datum": 4.09}, "y": {"datum": 1.664, "axis": null}}},
        {"mark": {"type": "text", "text": "(50 nM)", "fontSize": 21, "color": "#7f4fb0"}, "encoding": {"x": {"datum": 3.51, "axis": null}, "y": {"datum": 1.486, "axis": null}}},
        {"mark": {"type": "text", "text": "*", "fontSize": 28, "color": "#262626"}, "encoding": {"x": {"datum": 2.98, "axis": null}, "y": {"datum": 0.909, "axis": null}}},
        {"mark": {"type": "text", "text": "**", "fontSize": 28, "color": "#262626"}, "encoding": {"x": {"datum": 3.982, "axis": null}, "y": {"datum": 0.77, "axis": null}}},
        {"mark": {"type": "text", "text": "KA", "fontSize": 22, "fontWeight": "bold", "angle": 310, "color": "#e46c0a"}, "encoding": {"x": {"datum": 0.642, "axis": null}, "y": {"datum": -0.2, "axis": null}}},
        {"mark": {"type": "text", "text": "Tn", "fontSize": 22, "fontWeight": "bold", "angle": 310, "color": "#0070c0"}, "encoding": {"x": {"datum": 1.6, "axis": null}, "y": {"datum": -0.19, "axis": null}}},
        {"mark": {"type": "text", "text": "KA", "fontSize": 22, "fontWeight": "bold", "angle": 310, "color": "#e46c0a"}, "encoding": {"x": {"datum": 2.86, "axis": null}, "y": {"datum": -0.2, "axis": null}}},
        {"mark": {"type": "text", "text": "Tn", "fontSize": 22, "fontWeight": "bold", "angle": 310, "color": "#0070c0"}, "encoding": {"x": {"datum": 3.85, "axis": null}, "y": {"datum": -0.19, "axis": null}}}
      ]
    },
    {
      "data": {"name": "boxes"}, "transform": [{"filter": "datum.panel === 'd'"}],
      "layer": [
        {"mark": {"type": "rule", "strokeWidth": 1.4},
         "encoding": {"x": {"field": "grp", "type": "nominal", "scale": {"type": "band", "domain": ["HEPES", "Cu"], "range": [557, 792.15], "paddingInner": 0.121, "paddingOuter": 0}, "axis": null},
                      "xOffset": {"field": "cond", "type": "nominal", "scale": {"type": "band", "domain": ["KA", "Tn"], "paddingInner": 0, "paddingOuter": 0}},
                      "y": {"field": "q3", "type": "quantitative", "scale": {"domain": [0, 2], "range": [616.7, 392.3], "nice": false, "zero": false},
                            "axis": {"orient": "left", "offset": -544.3, "values": [0, 1, 2], "format": "d", "title": null, "grid": false, "tickSize": -9, "labelPadding": 20, "labelFontSize": 26, "labelFont": "Lato", "labelColor": "#262626", "labelOverlap": false, "domainColor": "#404040", "domainWidth": 1.5, "tickColor": "#404040", "tickWidth": 1.5}},
                      "y2": {"field": "hi"},
                      "color": {"field": "cond", "type": "nominal", "scale": {"domain": ["KA", "Tn", "Ctrl"], "range": ["#f29650", "#3b93d8", "#595959"]}, "legend": null}}},
        {"mark": {"type": "rule", "strokeWidth": 1.4},
         "encoding": {"x": {"field": "grp", "type": "nominal", "axis": null}, "xOffset": {"field": "cond", "type": "nominal"},
                      "y": {"field": "q1", "type": "quantitative", "axis": {"title": null}}, "y2": {"field": "lo"},
                      "color": {"field": "cond", "type": "nominal", "scale": {"domain": ["KA", "Tn", "Ctrl"], "range": ["#f29650", "#3b93d8", "#595959"]}, "legend": null}}},
        {"mark": {"type": "tick", "orient": "horizontal", "size": 20, "thickness": 1.4},
         "encoding": {"x": {"field": "grp", "type": "nominal", "axis": null}, "xOffset": {"field": "cond", "type": "nominal"},
                      "y": {"field": "hi", "type": "quantitative", "axis": {"title": null}},
                      "color": {"field": "cond", "type": "nominal", "scale": {"domain": ["KA", "Tn", "Ctrl"], "range": ["#f29650", "#3b93d8", "#595959"]}, "legend": null}}},
        {"mark": {"type": "tick", "orient": "horizontal", "size": 20, "thickness": 1.4},
         "encoding": {"x": {"field": "grp", "type": "nominal", "axis": null}, "xOffset": {"field": "cond", "type": "nominal"},
                      "y": {"field": "lo", "type": "quantitative", "axis": {"title": null}},
                      "color": {"field": "cond", "type": "nominal", "scale": {"domain": ["KA", "Tn", "Ctrl"], "range": ["#f29650", "#3b93d8", "#595959"]}, "legend": null}}},
        {"mark": {"type": "bar", "filled": false, "orient": "vertical", "width": {"band": 0.745}, "strokeWidth": 1.4},
         "encoding": {"x": {"field": "grp", "type": "nominal", "axis": null}, "xOffset": {"field": "cond", "type": "nominal"},
                      "y": {"field": "q1", "type": "quantitative", "axis": {"title": null}}, "y2": {"field": "q3"},
                      "color": {"field": "cond", "type": "nominal", "scale": {"domain": ["KA", "Tn", "Ctrl"], "range": ["#f29650", "#3b93d8", "#595959"]}, "legend": null}}},
        {"mark": {"type": "tick", "orient": "horizontal", "size": 41, "thickness": 1.4},
         "encoding": {"x": {"field": "grp", "type": "nominal", "axis": null}, "xOffset": {"field": "cond", "type": "nominal"},
                      "y": {"field": "med", "type": "quantitative", "axis": {"title": null}},
                      "color": {"field": "cond", "type": "nominal", "scale": {"domain": ["KA", "Tn", "Ctrl"], "range": ["#f29650", "#3b93d8", "#595959"]}, "legend": null}}},
        {"data": {"name": "ratios"}, "transform": [{"filter": "datum.panel === 'd' && datum.cond === 'KA'"}],
         "mark": {"type": "point", "shape": "circle", "filled": true, "size": 140, "color": "#e46c0a", "opacity": 1},
         "encoding": {"x": {"field": "grp", "type": "nominal", "axis": null}, "xOffset": {"field": "cond", "type": "nominal"}, "y": {"field": "v", "type": "quantitative", "axis": {"title": null}}}},
        {"data": {"name": "ratios"}, "transform": [{"filter": "datum.panel === 'd' && datum.cond === 'Tn'"}],
         "mark": {"type": "point", "shape": "diamond", "filled": true, "size": 340, "color": "#0070c0", "opacity": 1},
         "encoding": {"x": {"field": "grp", "type": "nominal", "axis": null}, "xOffset": {"field": "cond", "type": "nominal"}, "y": {"field": "v", "type": "quantitative", "axis": {"title": null}}}}
      ]
    }
  ]
}
